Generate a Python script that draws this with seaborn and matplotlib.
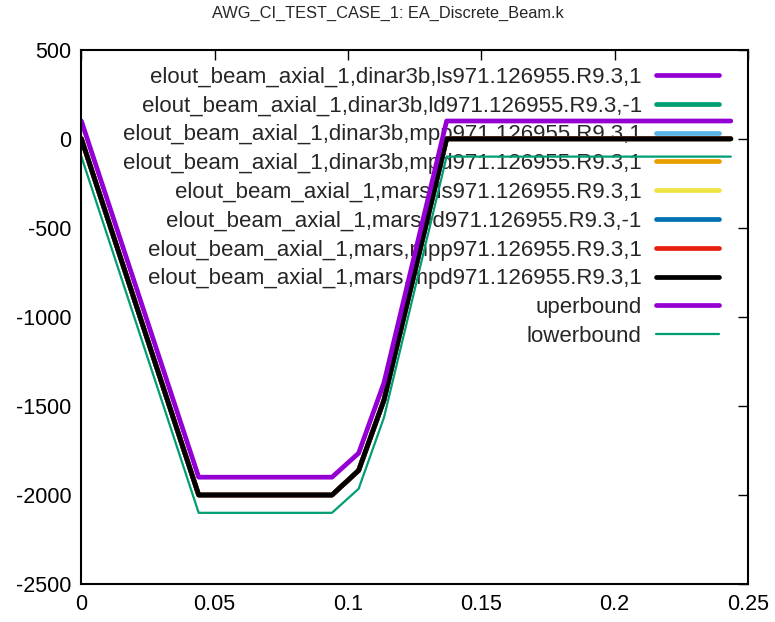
import matplotlib
matplotlib.use("Agg")
import matplotlib.pyplot as plt
import seaborn as sns
from matplotlib.ticker import FormatStrFormatter

# time (s) and axial force readings
time = [0.0, 0.044, 0.094, 0.104, 0.1135, 0.137, 0.2436]
axial = [0, -2000, -2000, -1862, -1467, 0, 0]
upper = [100, -1900, -1900, -1765, -1370, 100, 100]
lower = [-100, -2100, -2100, -1965, -1565, -100, -100]

names = [
    "elout_beam_axial_1,dinar3b,ls971.126955.R9.3,1",
    "elout_beam_axial_1,dinar3b,ld971.126955.R9.3,-1",
    "elout_beam_axial_1,dinar3b,mpp971.126955.R9.3,1",
    "elout_beam_axial_1,dinar3b,mpd971.126955.R9.3,1",
    "elout_beam_axial_1,mars,ls971.126955.R9.3,1",
    "elout_beam_axial_1,mars,ld971.126955.R9.3,-1",
    "elout_beam_axial_1,mars,mpp971.126955.R9.3,1",
    "elout_beam_axial_1,mars,mpd971.126955.R9.3,1",
]
colors = ["#9400d3", "#009e73", "#56b4e9", "#e69f00",
          "#f0e442", "#0072b2", "#e51e10", "#000000"]

sns.set_style("white")
plt.rcParams['font.family'] = ['Liberation Sans', 'DejaVu Sans']
plt.rcParams['axes.unicode_minus'] = False

fig = plt.figure(figsize=(7.75, 6.22), dpi=100)
ax = fig.add_axes([0.105, 0.061, 0.86, 0.859])

for name, c in zip(names, colors):
    sns.lineplot(x=time, y=axial, color=c, linewidth=3.4, label=name, ax=ax,
                 sort=False)
sns.lineplot(x=time, y=upper, color="#9400d3", linewidth=3.4, label="uperbound",
             ax=ax, sort=False)
sns.lineplot(x=time, y=lower, color="#009e73", linewidth=1.6, label="lowerbound",
             ax=ax, sort=False)

ax.set_xlim(0, 0.25)
ax.set_ylim(-2500, 500)
ax.set_xticks([0, 0.05, 0.1, 0.15, 0.2, 0.25])
ax.set_yticks([500, 0, -500, -1000, -1500, -2000, -2500])
ax.xaxis.set_major_formatter(FormatStrFormatter('%g'))
ax.tick_params(direction='in', length=7, width=1, labelsize=15.5,
               top=True, right=True, pad=7, colors='black')
for s in ax.spines.values():
    s.set_color('black')
    s.set_linewidth(1.5)

# gnuplot centres the title on the whole canvas
fig.suptitle("AWG_CI_TEST_CASE_1: EA_Discrete_Beam.k", x=0.5, y=0.979,
             va='center', fontsize=11.8)

leg = ax.legend(loc='upper right', bbox_to_anchor=(0.9565, 0.968), frameon=False,
                markerfirst=False, fontsize=16, handlelength=2.84,
                labelspacing=0.35, handletextpad=0.63, alignment='right',
                borderpad=0, borderaxespad=0)
for t in leg.get_texts():
    t.set_ha('right')
leg.set_zorder(1)

fig.savefig("out.png", dpi=100)
